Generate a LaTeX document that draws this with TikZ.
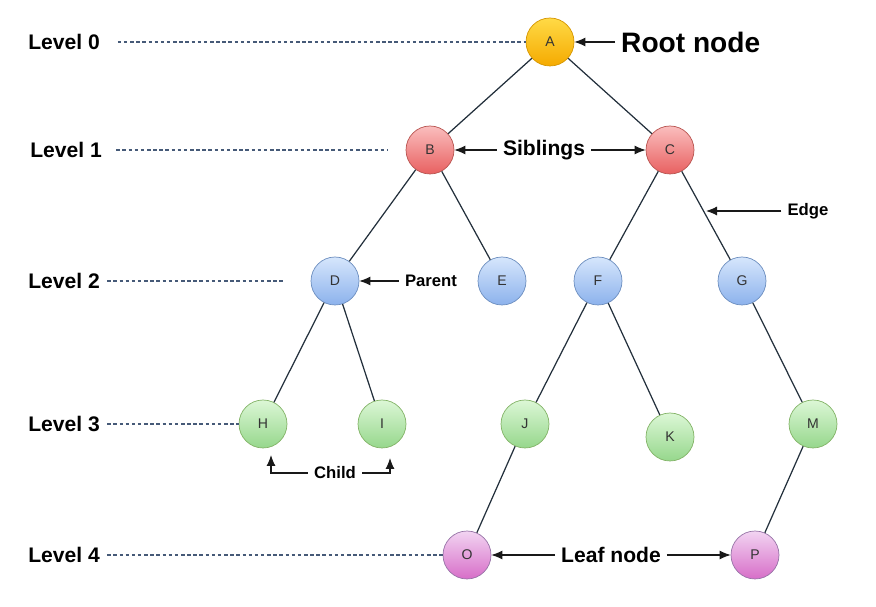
\documentclass[tikz,border=0pt]{standalone}
\usepackage{fontspec}
\setmainfont{Liberation Sans}
\usetikzlibrary{arrows.meta,positioning}
\definecolor{goldtop}{RGB}{255,218,70}
\definecolor{goldbot}{RGB}{245,170,0}
\definecolor{goldline}{RGB}{214,150,0}
\definecolor{redtop}{RGB}{250,190,190}
\definecolor{redbot}{RGB}{232,96,96}
\definecolor{redline}{RGB}{184,84,80}
\definecolor{bluetop}{RGB}{214,230,252}
\definecolor{bluebot}{RGB}{140,178,236}
\definecolor{blueline}{RGB}{108,142,191}
\definecolor{greentop}{RGB}{220,247,214}
\definecolor{greenbot}{RGB}{150,215,140}
\definecolor{greenline}{RGB}{130,179,102}
\definecolor{pinktop}{RGB}{242,212,242}
\definecolor{pinkbot}{RGB}{215,110,200}
\definecolor{pinkline}{RGB}{150,115,166}
\definecolor{edgecol}{RGB}{35,48,60}
\definecolor{dotcol}{RGB}{70,90,120}
\tikzset{
  treenode/.style={circle, thin, minimum size=0.96cm, inner sep=0pt,
                   font=\fontsize{8}{9}\selectfont, text=black!80},
  rootnode/.style={treenode, draw=goldline, top color=goldtop, bottom color=goldbot},
  rednode/.style={treenode, draw=redline, top color=redtop, bottom color=redbot},
  bluenode/.style={treenode, draw=blueline, top color=bluetop, bottom color=bluebot},
  greennode/.style={treenode, draw=greenline, top color=greentop, bottom color=greenbot},
  pinknode/.style={treenode, draw=pinkline, top color=pinktop, bottom color=pinkbot},
  treeedge/.style={draw=edgecol, line width=0.7pt},
  levellabel/.style={anchor=west, inner sep=0pt, font=\bfseries\fontsize{12}{14}\selectfont},
  levelline/.style={dotcol, line width=0.6pt, dash pattern=on 2pt off 1.5pt},
  bigtag/.style={font=\bfseries\fontsize{16}{18}\selectfont},
  midtag/.style={font=\bfseries\fontsize{12}{14}\selectfont},
  smalltag/.style={font=\bfseries\fontsize{9.5}{11}\selectfont},
  arrow/.style={-{Latex[length=2.2mm,width=1.8mm]}, line width=0.6pt, black!90},
}
\begin{document}
\begin{tikzpicture}[x=0.02cm, y=-0.02cm]
\useasboundingbox (0,0) rectangle (876,607);

% tree
\node[rootnode] (A) at (550,42) {A};
\node[rednode] (B) at (430,150) {B};
\node[rednode] (C) at (670,150) {C};
\node[bluenode] (D) at (335,281) {D};
\node[bluenode] (E) at (502,281) {E};
\node[bluenode] (F) at (598,281) {F};
\node[bluenode] (G) at (742,281) {G};
\node[greennode] (H) at (263,424) {H};
\node[greennode] (I) at (382,424) {I};
\node[greennode] (J) at (525,424) {J};
\node[greennode] (K) at (670,437) {K};
\node[greennode] (M) at (813,424) {M};
\node[pinknode] (O) at (467,555) {O};
\node[pinknode] (P) at (755,555) {P};
\foreach \a/\b in {A/B, A/C, B/D, B/E, C/F, C/G, D/H, D/I, F/J, F/K, G/M, J/O, M/P}
  \draw[treeedge] (\a) -- (\b);

% levels
\node[levellabel] (lv0) at (28,42) {Level 0};
\node[levellabel] (lv1) at (30,150) {Level 1};
\node[levellabel] (lv2) at (28,281) {Level 2};
\node[levellabel] (lv3) at (28,424) {Level 3};
\node[levellabel] (lv4) at (28,555) {Level 4};
\coordinate (end1) at (388,150);
\coordinate (end2) at (285,281);
\draw[levelline] ([xshift=10pt]lv0.east) -- (A);
\draw[levelline] ([xshift=8pt]lv1.east) -- (end1);
\draw[levelline] ([xshift=4pt]lv2.east) -- (end2);
\draw[levelline] ([xshift=4pt]lv3.east) -- (H);
\draw[levelline] ([xshift=4pt]lv4.east) -- (O);

% callouts
\node[bigtag, anchor=west] (root) at (615,42) {Root node};
\draw[arrow] (root.west) -- (A);

\node[midtag] (sib) at (544,150) {Siblings};
\draw[arrow] (sib.west) -- (B);
\draw[arrow] (sib.east) -- (C);

\node[smalltag] (edg) at (808,211) {Edge};
\coordinate (edgept) at (706,211);
\draw[arrow] (edg.west) -- (edgept);

\node[smalltag] (par) at (431,281) {Parent};
\draw[arrow] (par.west) -- (D);

\node[smalltag] (chi) at (335,473) {Child};
\coordinate (hpt) at (271,455);
\coordinate (ipt) at (390,458);
\draw[arrow] (chi.west) -| (hpt);
\draw[arrow] (chi.east) -| (ipt);

\node[midtag] (leaf) at (611,555) {Leaf node};
\draw[arrow] (leaf.west) -- (O);
\draw[arrow] (leaf.east) -- (P);
\end{tikzpicture}
\end{document}
